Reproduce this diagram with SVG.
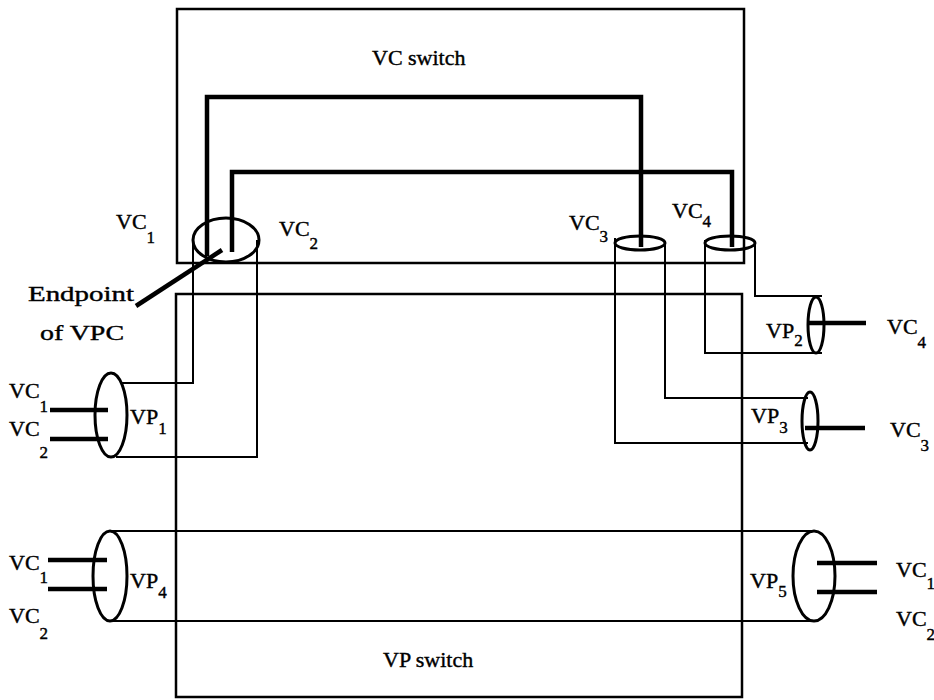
<svg xmlns="http://www.w3.org/2000/svg" width="934" height="700" viewBox="0 0 934 700">
<style>
.thin{stroke:#000;stroke-width:2;fill:none}
.frame{stroke:#000;stroke-width:2.5;fill:none}
.thick{stroke:#000;stroke-width:4.5;fill:none}
.ell{stroke:#000;stroke-width:3;fill:none}
text{font-family:"Liberation Serif","Times New Roman",serif;font-size:22px;fill:#000;stroke:#000;stroke-width:0.4}
.sub{font-size:17px}
</style>
<rect width="934" height="700" fill="#fff"/>
<g id="vc-switch">
<rect class="frame" x="177" y="9" width="567" height="254"/>
<text x="372" y="65">VC switch</text>
</g>
<g id="vp-switch">
<rect class="frame" x="176" y="294" width="566" height="403"/>
<text x="383" y="667">VP switch</text>
</g>
<g id="connectors">
<path class="thin" d="M120,383 H193 V240"/>
<path class="thin" d="M116,457 H257 V240"/>
<path class="thin" d="M108,531 H812"/>
<path class="thin" d="M108,621 H812"/>
<path class="thin" d="M755,243 V296 H822"/>
<path class="thin" d="M705,240 V353 H822"/>
<path class="thin" d="M665,243 V398 H808"/>
<path class="thin" d="M615,238 V443 H808"/>
<path class="thick" d="M207,256 V97 H641 V247"/>
<path class="thick" d="M232,252 V172 H732 V247"/>
</g>
<g id="vpc-endpoint">
<ellipse class="ell" cx="226" cy="240" rx="33" ry="22"/>
<line class="thick" x1="136" y1="306" x2="222" y2="250"/>
<text x="28" y="301" font-size="25" textLength="106" lengthAdjust="spacingAndGlyphs">Endpoint</text>
<text x="40" y="340" font-size="25" textLength="84" lengthAdjust="spacingAndGlyphs">of VPC</text>
<text x="116" y="229">VC<tspan class="sub" dy="14">1</tspan></text>
<text x="279" y="236">VC<tspan class="sub" dy="13">2</tspan></text>
</g>
<g id="vc3-port">
<ellipse class="ell" cx="640" cy="243" rx="25" ry="7"/>
<text x="569" y="230">VC<tspan class="sub" dy="12">3</tspan></text>
</g>
<g id="vc4-port">
<ellipse class="ell" cx="730" cy="243" rx="25" ry="7"/>
<text x="672" y="218">VC<tspan class="sub" dy="9">4</tspan></text>
</g>
<g id="vp1">
<ellipse class="ell" cx="111" cy="415" rx="16" ry="42"/>
<line class="thick" x1="50" y1="410" x2="108" y2="410"/>
<line class="thick" x1="50" y1="439" x2="108" y2="439"/>
<text x="9" y="398">VC<tspan class="sub" dy="14">1</tspan></text>
<text x="9" y="436">VC<tspan class="sub" dy="22">2</tspan></text>
<text x="130" y="424">VP<tspan class="sub" dy="10">1</tspan></text>
</g>
<g id="vp4">
<ellipse class="ell" cx="110" cy="576" rx="17" ry="45"/>
<line class="thick" x1="48" y1="560" x2="107" y2="560"/>
<line class="thick" x1="48" y1="589" x2="107" y2="589"/>
<text x="9" y="570">VC<tspan class="sub" dy="13">1</tspan></text>
<text x="9" y="623">VC<tspan class="sub" dy="16">2</tspan></text>
<text x="130" y="588">VP<tspan class="sub" dy="10">4</tspan></text>
</g>
<g id="vp2">
<ellipse class="ell" cx="816" cy="325" rx="8" ry="28"/>
<line class="thick" x1="808" y1="323" x2="866" y2="323"/>
<text x="766" y="338">VP<tspan class="sub" dy="8">2</tspan></text>
<text x="887" y="334">VC<tspan class="sub" dy="14">4</tspan></text>
</g>
<g id="vp3">
<ellipse class="ell" cx="810" cy="421" rx="8" ry="29"/>
<line class="thick" x1="805" y1="428" x2="865" y2="428"/>
<text x="751" y="423">VP<tspan class="sub" dy="10">3</tspan></text>
<text x="890" y="437">VC<tspan class="sub" dy="14">3</tspan></text>
</g>
<g id="vp5">
<ellipse class="ell" cx="814" cy="576" rx="21" ry="45"/>
<line class="thick" x1="817" y1="563" x2="877" y2="563"/>
<line class="thick" x1="817" y1="592" x2="877" y2="592"/>
<text x="750" y="588">VP<tspan class="sub" dy="9">5</tspan></text>
<text x="896" y="577">VC<tspan class="sub" dy="12">1</tspan></text>
<text x="896" y="626">VC<tspan class="sub" dy="14">2</tspan></text>
</g>
</svg>
